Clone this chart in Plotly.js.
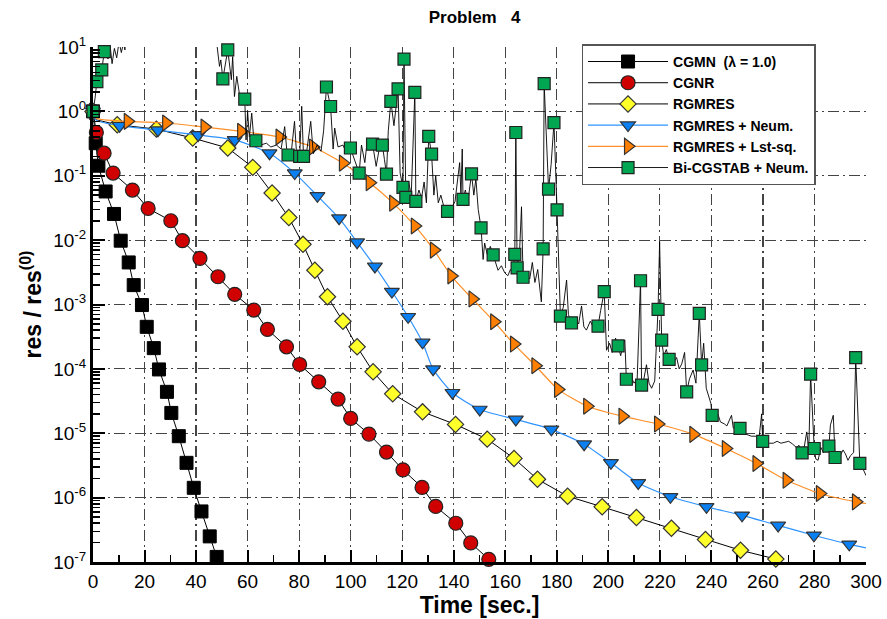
<!DOCTYPE html>
<html><head><meta charset="utf-8">
<script src="https://cdn.plot.ly/plotly-3.0.1.min.js"></script>
<style>html,body{margin:0;padding:0;background:#fff}#chart{width:887px;height:619px}</style>
</head><body><div id="chart"></div>
<script>
// ---------- DATA ----------
const seriesNames = ['CGMN\u00a0 (\u03bb = 1.0)', 'CGNR', 'RGMRES', 'RGMRES + Neum.', 'RGMRES + Lst-sq.', 'Bi-CGSTAB + Neum.'];

const cgmnT = [0, 1.05, 2.1, 4.9, 8.15, 10.75, 13.86, 15.8, 19.0, 20.85, 23.6, 25.6, 28.7, 30.4, 33.3, 36.3, 39.1, 42.1, 45.3, 48.0];
const cgmnV = [1, 0.32, 0.143, 0.057, 0.0255, 0.0098, 0.0045, 0.002, 0.00098, 4.5e-4, 2.1e-4, 9.8e-5, 4.4e-5, 2.07e-5, 9e-6, 3.47e-6, 1.42e-6, 6.1e-7, 2.5e-7, 1.2e-7];

const cgnrT = [0, 1.3, 4.3, 7.8, 15.3, 21.4, 30.2, 34.7, 41.5, 48.5, 55.0, 62.4, 67.7, 75.1, 80.2, 87.6, 95.1, 100.0, 107.1, 113.9, 120.3, 127.7, 133.0, 140.8, 146.6, 153.6];
const cgnrV = [1, 0.47, 0.224, 0.11, 0.06, 0.031, 0.02, 0.0098, 0.0052, 0.0027, 0.00144, 8.2e-4, 4.1e-4, 2.2e-4, 1.17e-4, 6.3e-5, 3.4e-5, 1.7e-5, 9.7e-6, 5.1e-6, 2.7e-6, 1.44e-6, 7.3e-7, 4e-7, 1.98e-7, 1.1e-7];

const rgmresT = [0, 9.4, 24.6, 38.7, 52.3, 62.0, 69.5, 76.0, 81.5, 86.1, 91.0, 97.0, 102.5, 108.7, 116.3, 127.9, 140.7, 153.0, 163.4, 172.5, 184.2, 197.6, 210.9, 224.5, 237.7, 251.3, 265.0];
const rgmresV = [1, 0.62, 0.53, 0.385, 0.27, 0.135, 0.054, 0.0224, 0.0086, 0.0034, 0.00132, 5.5e-4, 2.2e-4, 9e-5, 4.1e-5, 2.15e-5, 1.37e-5, 8.1e-6, 4.06e-6, 1.93e-6, 1.05e-6, 7.2e-7, 4.9e-7, 3.34e-7, 2.23e-7, 1.52e-7, 1.11e-7];
const rgmresLeadT = [1.2];
const rgmresLeadV = [0.74];

const neumT = [0, 10.3, 25.2, 40.8, 55.0, 68.5, 78.3, 87.1, 95.5, 102.5, 109.4, 116.0, 122.3, 127.9, 132.0, 139.5, 150.1, 164.1, 177.9, 190.6, 201.0, 211.6, 224.1, 238.1, 251.9, 265.9, 279.8, 293.5];
const neumV = [1, 0.60, 0.51, 0.43, 0.36, 0.224, 0.11, 0.0487, 0.0219, 0.0093, 0.0039, 0.00159, 6.45e-4, 2.58e-4, 9.9e-5, 4.26e-5, 2.34e-5, 1.64e-5, 1.15e-5, 6.76e-6, 3.47e-6, 1.69e-6, 1.03e-6, 7.2e-7, 5.3e-7, 3.7e-7, 2.6e-7, 1.88e-7];
const neumLeadT = [1.2, 300];
const neumLeadV = [0.73, 1.66e-7];

const lstT = [0, 13.5, 28.4, 43.3, 57.5, 72.4, 85.4, 97.0, 107.4, 116.5, 124.9, 132.3, 139.1, 147.3, 155.7, 163.4, 171.7, 180.5, 191.8, 205.5, 219.3, 233.0, 245.6, 257.5, 269.2, 282.1, 296.1];
const lstV = [1, 0.70, 0.66, 0.57, 0.49, 0.40, 0.28, 0.157, 0.078, 0.0375, 0.0166, 0.0070, 0.00277, 0.00122, 5.4e-4, 2.43e-4, 1.12e-4, 4.8e-5, 2.63e-5, 1.84e-5, 1.39e-5, 9.6e-6, 5.8e-6, 3.39e-6, 1.86e-6, 1.16e-6, 8.6e-7];
const lstLeadT = [1.2, 300];
const lstLeadV = [0.78, 8.1e-7];

// Bi-CGSTAB: square markers, and extra points of the noisy history line
const bicgT = [0, 1.5, 3.4, 4.4, 50.4, 52.3, 58.9, 63.2, 75.7, 80.2, 81.7, 90.6, 92.2, 99.9, 103.3, 108.5, 112.3, 113.9, 115.6, 118.4, 120.3, 120.7, 121.4, 124.9, 125.3, 130.3, 131.4, 137.6, 143.6, 146.9, 150.6, 155.3, 163.7, 164.1, 164.6, 166.9, 174.7, 175.1, 176.8, 178.9, 180.1, 181.4, 185.7, 196.0, 198.4, 203.8, 207.0, 212.5, 212.9, 219.3, 220.7, 223.6, 230.4, 235.3, 236.2, 240.3, 251.1, 259.9, 275.2, 278.5, 279.9, 285.6, 288.0, 296.0, 297.6];
const bicgV = [1.0, 2.9, 4.4, 8.5, 3.2, 9.0, 1.55, 0.35, 0.21, 0.20, 0.20, 2.39, 1.19, 0.27, 0.11, 0.31, 0.30, 0.106, 1.43, 2.24, 0.066, 6.5, 0.046, 1.97, 0.040, 0.41, 0.217, 0.028, 0.043, 0.107, 0.0155, 0.0059, 0.0060, 0.47, 0.0037, 0.00265, 0.0073, 2.7, 0.062, 0.67, 0.0295, 6.6e-4, 5.2e-4, 4.6e-4, 0.00158, 2.27e-4, 6.9e-5, 0.00234, 5.6e-5, 8.4e-4, 2.8e-4, 1.4e-4, 4.4e-5, 7.3e-4, 1.15e-4, 1.9e-5, 1.19e-5, 7.5e-6, 4.96e-6, 8.3e-5, 5.8e-6, 6.3e-6, 4.2e-6, 1.5e-4, 3.4e-6];
const bicgNoiseT = [0.8, 5.2, 5.8, 6.6, 7.4, 8.3, 9.2, 10.1, 11.0, 11.8, 12.4, 13.0, 30.0, 47.5, 48.2, 49.1, 49.6, 53.7, 54.2, 54.9, 55.8, 56.8, 59.4, 60.0, 60.7, 61.6, 62.3, 65.0, 67.3, 69.0, 71.2, 73.0, 74.4, 75.2, 77.0, 78.2, 79.0, 81.0, 83.0, 84.5, 85.5, 87.0, 88.5, 89.5, 92.7, 93.2, 93.8, 95.1, 97.0, 98.5, 101.5, 104.2, 105.5, 106.4, 107.5, 109.9, 111.0, 113.1, 114.6, 116.8, 119.2, 122.5, 123.5, 124.2, 126.5, 127.5, 128.5, 129.4, 132.3, 133.0, 134.0, 135.0, 136.0, 139.0, 140.5, 142.3, 142.8, 143.3, 144.5, 145.5, 147.8, 148.6, 149.5, 151.4, 152.0, 153.0, 154.2, 156.2, 157.2, 158.5, 159.8, 161.0, 162.0, 163.0, 165.5, 166.3, 168.0, 169.5, 170.5, 171.5, 172.6, 174.0, 177.8, 180.8, 182.5, 183.8, 184.5, 187.0, 188.5, 189.6, 190.5, 191.5, 193.0, 194.5, 197.0, 199.3, 200.5, 201.5, 202.8, 204.8, 205.5, 206.4, 208.5, 210.0, 211.2, 213.8, 214.8, 215.8, 216.8, 218.0, 219.9, 221.5, 222.5, 224.5, 225.5, 226.5, 227.5, 228.5, 229.6, 231.5, 232.9, 234.0, 237.0, 238.0, 239.0, 239.8, 241.5, 242.5, 243.5, 245.0, 246.0, 247.8, 248.5, 250.0, 252.5, 254.0, 255.5, 257.0, 258.5, 259.5, 261.0, 262.5, 264.0, 265.5, 267.0, 268.5, 270.0, 271.5, 273.0, 274.0, 276.0, 277.0, 277.8, 280.5, 281.4, 282.5, 283.5, 284.5, 286.2, 287.3, 289.0, 290.0, 291.1, 292.0, 293.0, 294.0, 295.2, 298.5, 300.0];
const bicgNoiseV = [1.6, 20, 6.5, 11, 5.5, 9.5, 6.8, 12, 8.2, 11.5, 9, 30, 40, 30, 10, 5.0, 6.3, 3.1, 7.1, 1.7, 3.5, 1.9, 0.36, 1.0, 0.40, 0.94, 0.42, 0.30, 0.32, 0.28, 0.30, 0.26, 0.58, 0.25, 0.24, 0.7, 0.22, 1.2, 0.25, 0.7, 0.22, 0.30, 0.24, 0.5, 0.41, 0.26, 0.55, 0.28, 0.30, 0.22, 0.18, 0.30, 0.16, 0.34, 0.25, 0.14, 0.25, 0.18, 0.5, 0.6, 0.11, 0.08, 0.05, 0.3, 0.06, 0.045, 0.08, 0.038, 0.05, 0.1, 0.038, 0.05, 0.035, 0.03, 0.04, 0.16, 0.05, 0.26, 0.06, 0.04, 0.05, 0.09, 0.03, 0.005, 0.009, 0.006, 0.008, 0.0045, 0.0034, 0.004, 0.0031, 0.0028, 0.0035, 0.003, 0.006, 0.033, 0.003, 0.0025, 0.0045, 0.0022, 0.0035, 0.0011, 0.15, 0.004, 9e-4, 0.0024, 7e-4, 6e-4, 5e-4, 9.5e-4, 4.5e-4, 4e-4, 5.5e-4, 4.2e-4, 8e-4, 1.95e-4, 2.5e-4, 1.8e-4, 3e-4, 1.6e-4, 2.2e-4, 2.8e-4, 8e-5, 6e-5, 7e-5, 7e-5, 1.16e-4, 6e-5, 5e-5, 6.5e-5, 0.0095, 1.6e-4, 2e-4, 1.7e-4, 1.3e-4, 1.5e-4, 1e-4, 1.2e-4, 1.8e-4, 7e-5, 9.6e-5, 6e-5, 2.5e-4, 5e-5, 3.5e-5, 2.9e-5, 1.6e-5, 2e-5, 1.5e-5, 1.4e-5, 1.3e-5, 1.9e-5, 1.2e-5, 1.3e-5, 1e-5, 9.5e-6, 9e-6, 9e-6, 8.5e-6, 2e-5, 7.5e-6, 7e-6, 7e-6, 7.5e-6, 7e-6, 7.2e-6, 7.5e-6, 6.8e-6, 6e-6, 6.5e-6, 6e-6, 1.05e-5, 5.5e-6, 4e-6, 3.8e-6, 6e-6, 5e-6, 6.5e-6, 1.35e-5, 1.9e-5, 5e-6, 4.5e-6, 5.5e-6, 4.8e-6, 3.8e-6, 4.5e-6, 5e-6, 3e-6, 2.2e-6];

const xTickStep = 20;
const yDecades = [-7, -6, -5, -4, -3, -2, -1, 0, 1];

// ---------- BUILD ----------
function merge(tA, vA, tB, vB) {
  const pts = tA.map((t, i) => [t, vA[i]]).concat(tB.map((t, i) => [t, vB[i]]));
  pts.sort((a, b) => a[0] - b[0]);
  return {x: pts.map(p => p[0]), y: pts.map(p => p[1])};
}

const styles = [
  {line: {color: '#000', width: 1}, marker: {symbol: 'square', size: 13, color: '#000', line: {color: '#000', width: 1}}},
  {line: {color: '#000', width: 1}, marker: {symbol: 'circle', size: 14, color: '#D00000', line: {color: '#222', width: 1.2}}},
  {line: {color: '#000', width: 1}, marker: {symbol: 'diamond', size: 12.5, color: '#FFFF2A', line: {color: '#333', width: 1.2}}},
  {line: {color: '#2F93FF', width: 1.2, shape: 'spline', smoothing: 0.6}, marker: {symbol: 'triangle-down', size: 13, color: '#0A80F2', line: {color: '#333', width: 1.2}}},
  {line: {color: '#FF8F26', width: 1.2, shape: 'spline', smoothing: 0.6}, marker: {symbol: 'triangle-right', size: 14, color: '#FF7F00', line: {color: '#333', width: 1.2}}},
  {line: {color: '#000', width: 0.9}, marker: {symbol: 'square', size: 12, color: '#00A651', line: {color: '#222', width: 1.2}}}
];

const lineData = [
  {x: cgmnT, y: cgmnV},
  {x: cgnrT, y: cgnrV},
  merge(rgmresT, rgmresV, rgmresLeadT, rgmresLeadV),
  merge(neumT, neumV, neumLeadT, neumLeadV),
  merge(lstT, lstV, lstLeadT, lstLeadV),
  merge(bicgT, bicgV, bicgNoiseT, bicgNoiseV)
];
const markData = [
  {x: cgmnT, y: cgmnV}, {x: cgnrT, y: cgnrV}, {x: rgmresT, y: rgmresV},
  {x: neumT, y: neumV}, {x: lstT, y: lstV}, {x: bicgT, y: bicgV}
];

const traces = [];
for (let i = 0; i < 6; i++) {
  traces.push({x: lineData[i].x, y: lineData[i].y, mode: 'lines', line: styles[i].line, showlegend: false, hoverinfo: 'skip'});
  traces.push({x: markData[i].x, y: markData[i].y, mode: 'markers', marker: styles[i].marker, showlegend: false, cliponaxis: false});
}
for (let i = 0; i < 6; i++) {
  traces.push({x: [null], y: [null], mode: 'lines+markers', name: seriesNames[i],
    line: {color: styles[i].line.color, width: styles[i].line.width}, marker: styles[i].marker, showlegend: true});
}

const yTickVals = yDecades.map(p => Math.pow(10, p));
const yTickText = yDecades.map(p => '10<sup>' + p + '</sup>');
const yMinorVals = [];
yDecades.slice(0, -1).forEach(p => { for (let d = 2; d <= 9; d++) yMinorVals.push(d * Math.pow(10, p)); });

const FONT = 'Liberation Sans, Arial, sans-serif';
const gridDash = '11px,4px,2px,4px';

const layout = {
  width: 887, height: 619,
  margin: {l: 93, r: 21, t: 47, b: 57},
  paper_bgcolor: '#fff', plot_bgcolor: '#fff',
  font: {family: FONT, color: '#000'},
  title: {text: '<b>Problem\u00a0\u00a0 4</b>', font: {family: FONT, size: 17, color: '#000'}, x: 0.535, xanchor: 'center', y: 0.972, yanchor: 'middle'},
  xaxis: {
    range: [0, 300], tick0: 0, dtick: xTickStep, ticks: 'inside', ticklen: 12, tickwidth: 2, tickcolor: '#000',
    showline: true, linewidth: 3, linecolor: '#000', zeroline: false,
    showgrid: true, gridcolor: '#444', gridwidth: 1.2, griddash: gridDash,
    tickfont: {family: FONT, size: 19, color: '#000'},
    minor: {dtick: xTickStep / 2, ticks: 'inside', ticklen: 7, tickwidth: 1.5, tickcolor: '#000', showgrid: false},
    title: {text: '<b>Time [sec.]</b>', font: {family: FONT, size: 23, color: '#000'}, standoff: 4}
  },
  yaxis: {
    type: 'log', range: [-7, 1], tickmode: 'array', tickvals: yTickVals, ticktext: yTickText,
    ticks: 'inside', ticklen: 12, tickwidth: 2, tickcolor: '#000',
    showline: true, linewidth: 3, linecolor: '#000', zeroline: false,
    showgrid: true, gridcolor: '#444', gridwidth: 1.2, griddash: gridDash,
    tickfont: {family: FONT, size: 19, color: '#000'},
    minor: {tickmode: 'array', tickvals: yMinorVals, ticks: 'inside', ticklen: 7, tickwidth: 1.5, tickcolor: '#000', showgrid: false},
    title: {text: '<b>res / res<sup>(0)</sup></b>', font: {family: FONT, size: 23, color: '#000'}, standoff: 6}
  },
  legend: {
    x: 0.632, y: 1.005, xanchor: 'left', yanchor: 'top',
    bgcolor: '#fff', bordercolor: '#555', borderwidth: 1.5,
    font: {family: FONT, size: 14, color: '#000', weight: 'bold'},
    itemwidth: 80, tracegroupgap: 0, entrywidth: 190, entrywidthmode: 'pixels'
  },
  showlegend: true
};

Plotly.newPlot('chart', traces, layout, {displayModeBar: false, staticPlot: true});
</script>
</body></html>
